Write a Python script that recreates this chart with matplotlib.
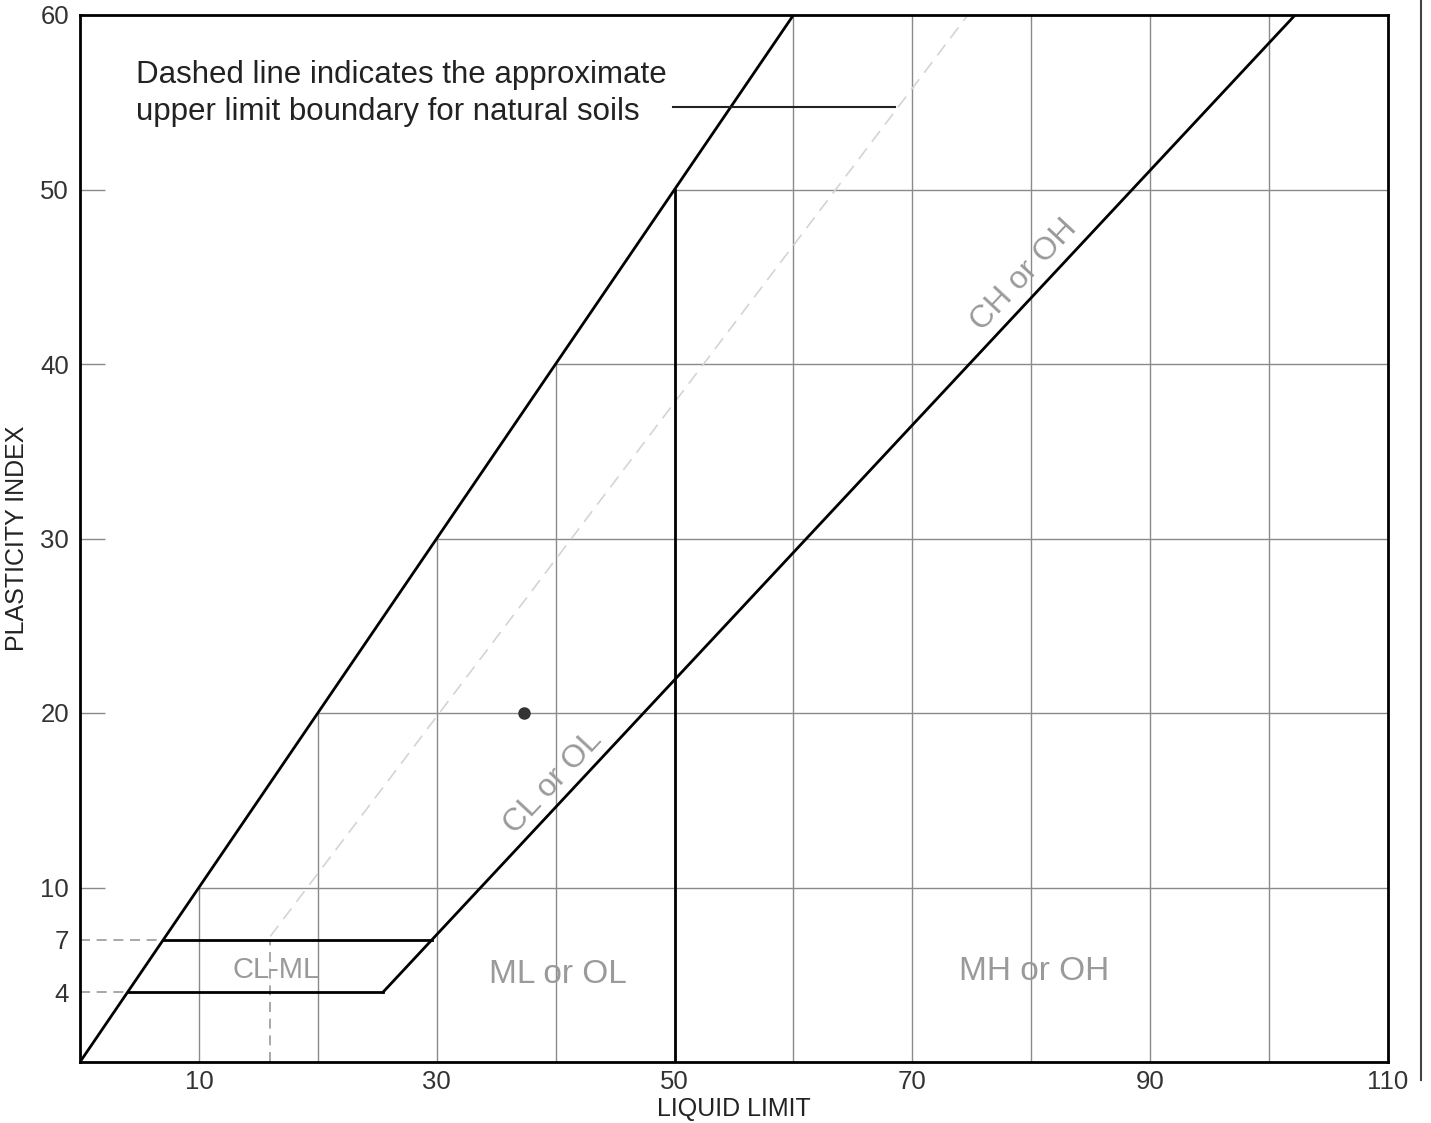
import matplotlib
matplotlib.use("Agg")
import matplotlib.pyplot as plt
import numpy as np

plt.rcParams['font.family'] = ['Liberation Sans', 'DejaVu Sans']

# ---- data ----
x_ticks = [10, 30, 50, 70, 90, 110]
y_ticks = [4, 7, 10, 20, 30, 40, 50, 60]
grid_x = [10, 20, 30, 40, 50, 60, 70, 80, 90, 100]
grid_y = [10, 20, 30, 40, 50]
u_line_slope = 1.0          # PI = LL (upper boundary shown)
a_line_slope = 0.73         # A-line: PI = 0.73 (LL - 20)
a_line_offset = 20
dash_slope = 0.9            # upper-limit dashed line: PI = 0.9 (LL - 8)
dash_offset = 8
dash_start_ll = 16
cl_ml_low, cl_ml_high = 4, 7
ll_split = 50
point_ll = [37.3]
point_pi = [20]
x_max, y_max = 110, 60

fig = plt.figure(figsize=(14.31, 11.23), dpi=100)
ax = fig.add_axes([80/1431, 1 - 1062/1123, (1388-80)/1431, (1062-15)/1123])
ax.set_xlim(0, x_max)
ax.set_ylim(0, y_max)

grid_c = '#8a8a8a'
# grid lines only below the U-line
for gx in grid_x:
    ax.plot([gx, gx], [0, min(gx * u_line_slope, y_max)], color=grid_c, lw=1.0, zorder=1)
for gy in grid_y:
    ax.plot([gy / u_line_slope, x_max], [gy, gy], color=grid_c, lw=1.0, zorder=1)

def a_ll(pi):
    return pi / a_line_slope + a_line_offset

# U-line
ax.plot([0, y_max / u_line_slope], [0, y_max], color='black', lw=2.0, zorder=3)
# A-line from PI=4
ax.plot([a_ll(cl_ml_low), a_ll(y_max)], [cl_ml_low, y_max], color='black', lw=2.0, zorder=3)
# CL-ML band
ax.plot([cl_ml_low / u_line_slope, a_ll(cl_ml_low)], [cl_ml_low, cl_ml_low], color='black', lw=2.0, zorder=3)
ax.plot([cl_ml_high / u_line_slope, a_ll(cl_ml_high)], [cl_ml_high, cl_ml_high], color='black', lw=2.0, zorder=3)
# LL = 50 split
ax.plot([ll_split, ll_split], [0, ll_split * u_line_slope], color='black', lw=2.0, zorder=3)

# dashed guide lines
dc = '#9a9a9a'
for lev in (cl_ml_low, cl_ml_high):
    ax.plot([0, lev / u_line_slope], [lev, lev], color=dc, lw=1.2, ls=(0, (6, 4)), zorder=2)
ax.plot([dash_start_ll, dash_start_ll], [0, cl_ml_high], color=dc, lw=1.2, ls=(0, (6, 4)), zorder=2)
ax.plot([dash_start_ll, y_max / dash_slope + dash_offset],
        [dash_slope * (dash_start_ll - dash_offset), y_max],
        color='#d4d4d4', lw=1.2, ls=(0, (8, 5)), zorder=2)

# point
ax.plot(point_ll, point_pi, 'o', color='#333333', ms=8, zorder=4)

# annotation
ax.text(4.7, 55.5, "Dashed line indicates the approximate\nupper limit boundary for natural soils",
        fontsize=22.5, color='#222222', va='center', ha='left', linespacing=1.3)
lead_pi = 54.7
ax.plot([49.9, (lead_pi / dash_slope) + dash_offset - 0.2], [lead_pi, lead_pi],
        color='#222222', lw=1.5, zorder=3)

# region labels
lab_c = '#9a9a9a'
ax.text(16.5, 5.3, "CL-ML", fontsize=21, color=lab_c, ha='center', va='center')
ax.text(40.2, 5.0, "ML or OL", fontsize=24, color=lab_c, ha='center', va='center')
ax.text(80.2, 5.2, "MH or OH", fontsize=24, color=lab_c, ha='center', va='center')
ax.text(39.8, 16.0, "CL or OL", fontsize=23, color=lab_c, ha='center', va='center', rotation=47)
ax.text(79.4, 45.1, "CH or OH", fontsize=23, color=lab_c, ha='center', va='center', rotation=47)

# axes styling
for s in ax.spines.values():
    s.set_linewidth(2.0)
    s.set_color('black')
ax.set_xticks(x_ticks)
ax.set_yticks(y_ticks)
ax.tick_params(axis='x', length=0, labelsize=18.5, pad=6, labelcolor='#333333')
ax.tick_params(axis='y', direction='in', length=18, width=1.0, color=grid_c, labelsize=18.5, pad=8,
               labelcolor='#333333')
for t, v in zip(ax.yaxis.get_major_ticks(), y_ticks):
    if v in (cl_ml_low, cl_ml_high, y_max):
        t.tick1line.set_visible(False)
ax.set_xlabel("LIQUID LIMIT", fontsize=18, color='#222222', labelpad=2)
ax.set_ylabel("PLASTICITY INDEX", fontsize=18, color='#222222', labelpad=8)

# page edge line at right
fig.add_artist(plt.Line2D([1421/1431, 1421/1431], [1 - 1080/1123, 1.0], transform=fig.transFigure,
                          color='#444444', lw=1.5))

fig.savefig("out.png", dpi=100)
